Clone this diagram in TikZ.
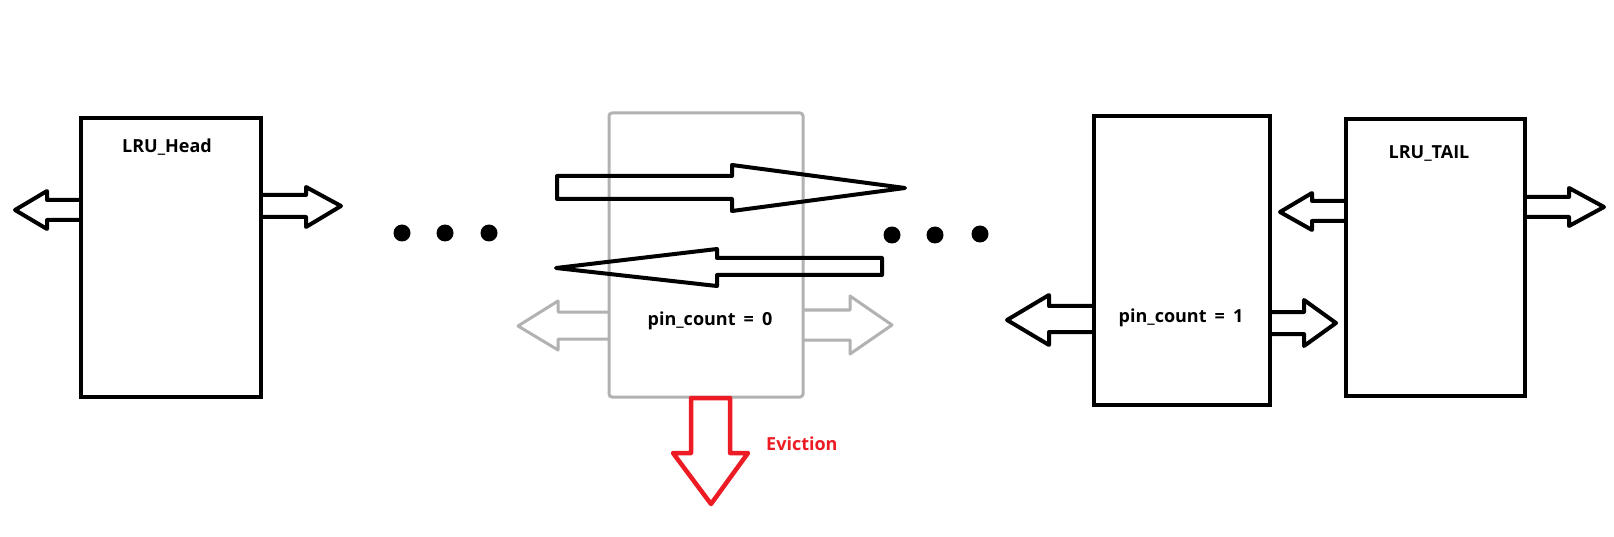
\documentclass[tikz,border=0pt]{standalone}
\usepackage{fontspec}
\setmainfont{Open Sans}
\definecolor{ghostgray}{RGB}{178,178,178}
\definecolor{evred}{RGB}{237,28,36}
\begin{document}
\begin{tikzpicture}[x=1pt,y=-1pt,
  box/.style={draw=black,line width=4pt,inner sep=0pt,outer sep=0pt},
  ghostbox/.style={draw=ghostgray,line width=3pt,rounded corners=3pt,inner sep=0pt,outer sep=0pt},
  blk/.style={draw=black,line width=4pt,line join=round},
  ghost/.style={draw=ghostgray,line width=3pt,line join=round},
  evict/.style={draw=evred,line width=4.5pt,line join=round},
  lbl/.style={font=\bfseries\fontsize{18}{20}\selectfont,inner sep=0pt},
  dot/.style={fill=black,circle,minimum size=17pt,inner sep=0pt}]
\useasboundingbox (0,0) rectangle (1614,537);
\fill[white] (0,0) rectangle (1614,537);

% boxes
\node[box, minimum width=180pt, minimum height=279pt] (head) at (171,257.5) {};
\node[ghostbox, minimum width=194pt, minimum height=284pt] (ghost) at (706,255) {};
\node[box, minimum width=176pt, minimum height=289pt] (pin1) at (1182,260.5) {};
\node[box, minimum width=179pt, minimum height=277pt] (tail) at (1435.5,257.5) {};

% labels
\node[lbl] (headlbl) at (167,147) {LRU\_Head};
\node[lbl] (pin0lbl) at (710,321) {pin\_count\hspace{0.45em}=\hspace{0.45em}0};
\node[lbl] (pin1lbl) at (1181,318) {pin\_count\hspace{0.45em}=\hspace{0.45em}1};
\node[lbl] (taillbl) at (1429,153) {LRU\_TAIL};
\node[lbl, text=evred, anchor=west] (evlbl) at (766,444) {Eviction};

% dots
\node[dot] (d1) at (402,233) {};
\node[dot] (d2) at (445,233) {};
\node[dot] (d3) at (489,233) {};
\node[dot] (d4) at (892,235) {};
\node[dot] (d5) at (935,235) {};
\node[dot] (d6) at (980,234) {};

% ghost side arrows
\draw[ghost] (609,312) -- (558,312) -- (558,301) -- (518,326) -- (558,350) -- (558,339) -- (609,339);
\draw[ghost] (803,310) -- (850,310) -- (850,296) -- (892,325) -- (850,354) -- (850,340) -- (803,340);

% head arrows
\draw[blk] (81,200) -- (47,200) -- (47,191) -- (15,210) -- (47,229) -- (47,220) -- (81,220);
\draw[blk] (261,195) -- (306,195) -- (306,187) -- (341,206) -- (306,227) -- (306,217) -- (261,217);

% big arrows
\draw[blk] (557,176) -- (732,176) -- (732,165) -- (905,188) -- (732,211) -- (732,199) -- (557,199) -- cycle;
\draw[blk] (882,258) -- (717,258) -- (717,249) -- (556,268) -- (717,286) -- (717,275) -- (882,275) -- cycle;

% pin1 arrows
\draw[blk] (1094,306) -- (1049,306) -- (1049,295) -- (1007,320) -- (1049,345) -- (1049,332) -- (1094,332);
\draw[blk] (1270,312) -- (1304,312) -- (1304,300) -- (1336,323) -- (1304,346) -- (1304,334) -- (1270,334);

% tail arrows
\draw[blk] (1346,201) -- (1312,201) -- (1312,193) -- (1280,212) -- (1312,230) -- (1312,221) -- (1346,221);
\draw[blk] (1525,197) -- (1569,197) -- (1569,188) -- (1604,207) -- (1569,226) -- (1569,217) -- (1525,217);

% eviction arrow
\draw[evict] (691,398) -- (691,453) -- (673,453) -- (711,504) -- (748,453) -- (730,453) -- (730,398) -- cycle;
\end{tikzpicture}
\end{document}
